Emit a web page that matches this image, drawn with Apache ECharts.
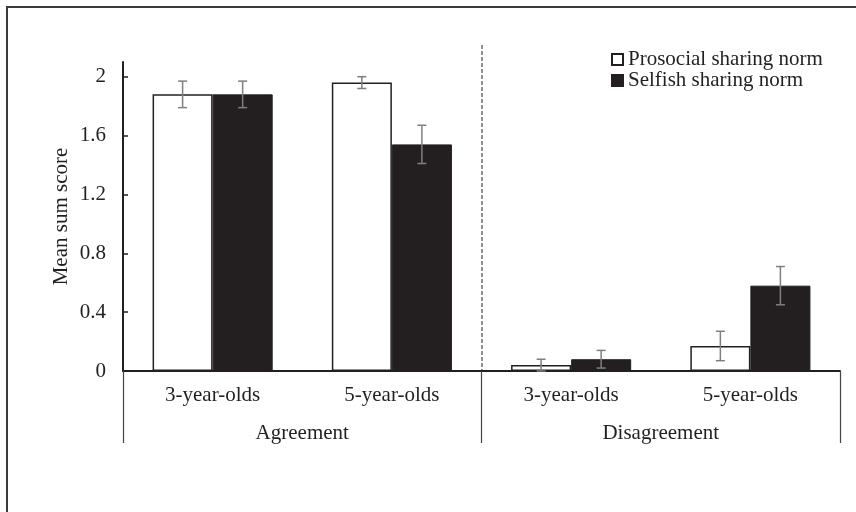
<!DOCTYPE html>
<html>
<head>
<meta charset="utf-8">
<script src="https://cdn.jsdelivr.net/npm/echarts@6/dist/echarts.min.js"></script>
<style>
  html, body { margin: 0; padding: 0; background: #fff; }
  #chart { width: 856px; height: 512px; }
</style>
</head>
<body>
<div id="chart"></div>
<script>
// data
var ageLabels = ['3-year-olds', '5-year-olds', '3-year-olds', '5-year-olds'];
var groupLabels = ['Agreement', 'Disagreement'];
var prosocialMean = [1.88, 1.96, 0.04, 0.17];
var prosocialErr = [0.09, 0.04, 0.04, 0.10];
var selfishMean = [1.88, 1.54, 0.08, 0.58];
var selfishErr = [0.09, 0.13, 0.06, 0.13];
var yTicks = [0, 0.4, 0.8, 1.2, 1.6, 2];

var ink = '#231f20';
var font = 'Liberation Serif';
var fs = 21;
var barGapRatio = 0.33;

function errorBars(means, errs, side) {
    return {
        type: 'custom',
        silent: true,
        z: 5,
        data: means.map(function (m, i) { return [i, m, errs[i]]; }),
        renderItem: function (params, api) {
            var i = api.value(0), m = api.value(1), e = api.value(2);
            var band = api.size([1, 0])[0];
            var bw = band * (1 - barGapRatio) / 2;
            var top = api.coord([i, m + e]);
            var bot = api.coord([i, Math.max(0, m - e)]);
            var x = top[0] + side * bw / 2;
            var cap = 4.5;
            var st = { stroke: '#7f7f7f', lineWidth: 1.5 };
            return {
                type: 'group',
                children: [
                    { type: 'line', shape: { x1: x, y1: top[1], x2: x, y2: bot[1] }, style: st },
                    { type: 'line', shape: { x1: x - cap, y1: top[1], x2: x + cap, y2: top[1] }, style: st },
                    { type: 'line', shape: { x1: x - cap, y1: bot[1], x2: x + cap, y2: bot[1] }, style: st }
                ]
            };
        }
    };
}

var chart = echarts.init(document.getElementById('chart'));
var option = {
    backgroundColor: '#fff',
    animation: false,
    textStyle: { fontFamily: font, color: ink },
    grid: { left: 123, right: 16, top: 62, bottom: 141 },
    legend: {
        orient: 'vertical',
        left: 606,
        top: 44,
        itemWidth: 11,
        itemHeight: 11,
        itemGap: 0,
        icon: 'rect',
        textStyle: { fontFamily: font, fontSize: fs, lineHeight: 19, color: ink, padding: [0, 0, 0, 0] },
        data: ['Prosocial sharing norm', 'Selfish sharing norm']
    },
    xAxis: [
        {
            type: 'category',
            data: ageLabels,
            axisLine: { lineStyle: { color: ink, width: 2 } },
            axisTick: { show: false },
            axisLabel: { fontFamily: font, fontSize: fs, color: ink, margin: 14 }
        },
        {
            type: 'category',
            data: groupLabels,
            position: 'bottom',
            axisLine: { show: false },
            axisTick: { show: true, length: 72, lineStyle: { color: '#444', width: 1.2 } },
            axisLabel: { fontFamily: font, fontSize: fs, color: ink, margin: 52 },
            splitLine: { show: false }
        }
    ],
    yAxis: {
        type: 'value',
        min: 0,
        max: 2.1,
        interval: 0.4,
        name: 'Mean sum score',
        nameLocation: 'middle',
        nameRotate: 90,
        nameGap: 51,
        nameMoveOverlap: false,
        nameTextStyle: { fontFamily: font, fontSize: fs, color: ink },
        axisLine: { show: true, lineStyle: { color: ink, width: 2 } },
        axisTick: { show: true, inside: true, length: 5, lineStyle: { color: ink, width: 1.5 } },
        axisLabel: {
            fontFamily: font, fontSize: fs, color: ink, margin: 17,
            showMaxLabel: false,
            formatter: function (v) {
                return yTicks.indexOf(Math.round(v * 10) / 10) >= 0 ? String(Math.round(v * 10) / 10) : '';
            }
        },
        splitLine: { show: false }
    },
    series: [
        {
            name: 'Prosocial sharing norm',
            type: 'bar',
            data: prosocialMean,
            barGap: 0,
            barCategoryGap: (barGapRatio * 100) + '%',
            itemStyle: { color: '#fff', borderColor: ink, borderWidth: 1.5 }
        },
        {
            name: 'Selfish sharing norm',
            type: 'bar',
            data: selfishMean,
            barGap: 0,
            barCategoryGap: (barGapRatio * 100) + '%',
            itemStyle: { color: ink, borderColor: ink, borderWidth: 1 }
        },
        errorBars(prosocialMean, prosocialErr, -1),
        errorBars(selfishMean, selfishErr, 1)
    ],
    graphic: [
        {
            type: 'rect',
            shape: { x: 7, y: 7, width: 900, height: 600 },
            style: { fill: 'none', stroke: '#3a3a3a', lineWidth: 2 },
            silent: true
        },
        {
            type: 'line',
            shape: { x1: 482, y1: 45, x2: 482, y2: 371 },
            style: { stroke: ink, lineWidth: 1, lineDash: [4, 2] },
            silent: true
        }
    ]
};
chart.setOption(option);
</script>
</body>
</html>
